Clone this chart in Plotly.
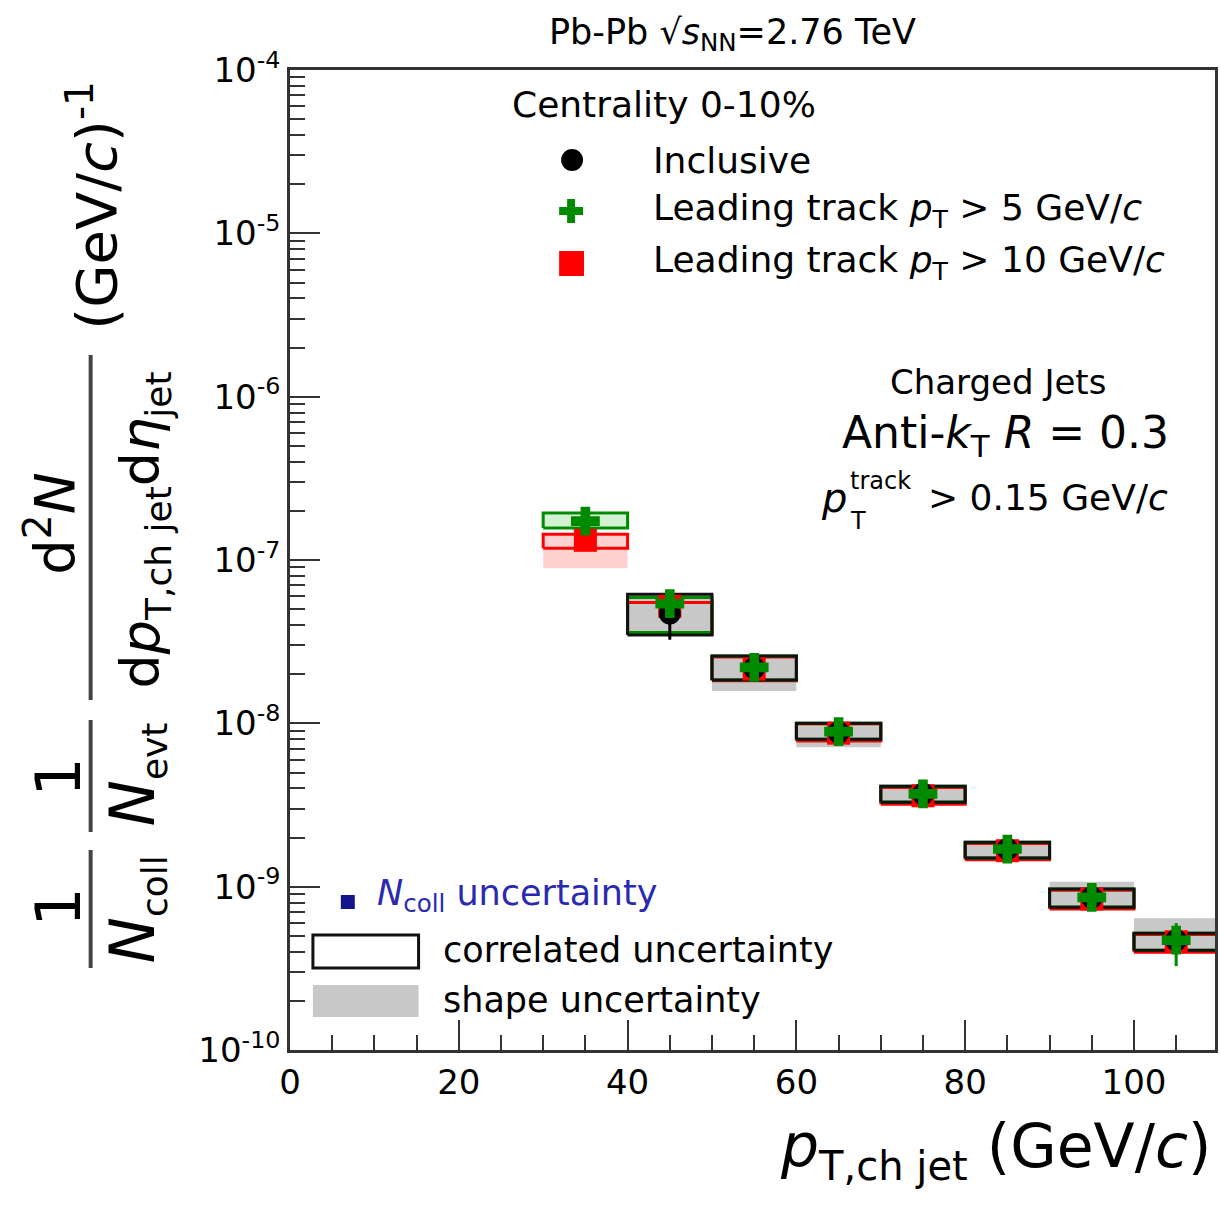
import plotly.graph_objects as go

# ---------------- data ----------------
BIN_W = 10.0
x_incl = [45, 55, 65, 75, 85, 95, 105]
x_lt = [35, 45, 55, 65, 75, 85, 95, 105]

incl_y = [4.7e-8, 2.18e-8, 8.8e-9, 3.7e-9, 1.70e-9, 8.6e-10, 4.7e-10]
incl_err_up = [1.2e-8, 1.0e-9, 4e-10, 1.5e-10, 8e-11, 4e-11, 3e-11]
incl_err_dn = [1.45e-8, 1.0e-9, 4e-10, 1.5e-10, 8e-11, 4e-11, 3e-11]
incl_corr_lo = [3.47e-8, 1.84e-8, 8.0e-9, 3.29e-9, 1.50e-9, 7.49e-10, 4.08e-10]
incl_corr_hi = [6.18e-8, 2.58e-8, 1.0e-8, 4.12e-9, 1.87e-9, 9.66e-10, 5.19e-10]
incl_shape_lo = [3.5e-8, 1.58e-8, 7.15e-9, 3.3e-9, 1.5e-9, 7.6e-10, 4.2e-10]
incl_shape_hi = [6.1e-8, 2.5e-8, 9.6e-9, 4.0e-9, 1.85e-9, 1.07e-9, 6.4e-10]

lt5_y = [1.73e-7, 5.4e-8, 2.2e-8, 8.9e-9, 3.7e-9, 1.70e-9, 8.6e-10, 4.7e-10]
lt5_err_up = [6e-9, 4e-9, 1e-9, 4e-10, 1.5e-10, 8e-11, 6e-11, 1.28e-10]
lt5_err_dn = [6e-9, 4e-9, 1e-9, 4e-10, 1.5e-10, 8e-11, 6e-11, 1.44e-10]
lt5_corr_lo = [1.57e-7, 3.6e-8, 1.84e-8, 8.0e-9, 3.3e-9, 1.5e-9, 7.5e-10, 4.08e-10]
lt5_corr_hi = [1.94e-7, 5.9e-8, 2.58e-8, 1.0e-8, 4.12e-9, 1.87e-9, 9.66e-10, 5.19e-10]
lt5_shape_lo = [1.6e-7, 3.7e-8, 1.9e-8, 8.1e-9, 3.35e-9, 1.52e-9, 7.6e-10, 4.2e-10]
lt5_shape_hi = [1.9e-7, 5.8e-8, 2.5e-8, 9.8e-9, 4.0e-9, 1.84e-9, 9.5e-10, 5.1e-10]

lt10_y = [1.32e-7, 5.2e-8, 2.15e-8, 8.7e-9, 3.6e-9, 1.66e-9, 8.4e-10, 4.6e-10]
lt10_err_up = [5e-9, 3e-9, 8e-10, 3e-10, 1.2e-10, 6e-11, 5e-11, 5e-11]
lt10_err_dn = [5e-9, 3e-9, 8e-10, 3e-10, 1.2e-10, 6e-11, 5e-11, 5e-11]
lt10_corr_lo = [1.18e-7, 3.5e-8, 1.82e-8, 7.8e-9, 3.2e-9, 1.46e-9, 7.3e-10, 3.97e-10]
lt10_corr_hi = [1.44e-7, 5.5e-8, 2.55e-8, 9.9e-9, 4.05e-9, 1.84e-9, 9.5e-10, 5.1e-10]
lt10_shape_lo = [8.9e-8, 3.6e-8, 1.85e-8, 7.9e-9, 3.25e-9, 1.48e-9, 7.4e-10, 4.0e-10]
lt10_shape_hi = [1.42e-7, 5.4e-8, 2.5e-8, 9.7e-9, 4.0e-9, 1.82e-9, 9.3e-10, 5.0e-10]

y_tickvals = [1e-10, 1e-9, 1e-8, 1e-7, 1e-6, 1e-5, 1e-4]
y_ticktext = ["10<sup>-10</sup>", "10<sup>-9</sup>", "10<sup>-8</sup>", "10<sup>-7</sup>",
              "10<sup>-6</sup>", "10<sup>-5</sup>", "10<sup>-4</sup>"]

# ---------------- style ----------------
FONT = "DejaVu Sans"
GREEN = "#008a00"
RED = "#ff0000"
GRAY = "#c8c8c8"
AX = "#333333"

W, H = 1220, 1210
L, R, T, B = 290, 2, 70, 160
PW = W - L - R
PH = H - T - B


def px(x):
    return (x - L) / PW


def py(y):
    return (H - B - y) / PH


def rects(xc, lo, hi):
    xs, ys = [], []
    hw = BIN_W / 2
    for c, l, h in zip(xc, lo, hi):
        xs += [c - hw, c + hw, c + hw, c - hw, c - hw, None]
        ys += [l, l, h, h, l, None]
    return xs, ys


fig = go.Figure()


def shape_box(xc, lo, hi, color):
    xs, ys = rects(xc, lo, hi)
    fig.add_trace(go.Scatter(x=xs, y=ys, mode="lines", fill="toself", fillcolor=color,
                             line=dict(width=0, color=color), hoverinfo="skip", showlegend=False))


def corr_box(xc, lo, hi, color):
    xs, ys = rects(xc, lo, hi)
    fig.add_trace(go.Scatter(x=xs, y=ys, mode="lines", line=dict(width=3, color=color),
                             hoverinfo="skip", showlegend=False))


shape_box(x_lt, lt10_shape_lo, lt10_shape_hi, "#ffd2d2")
shape_box(x_lt, lt5_shape_lo, lt5_shape_hi, "#d2f2d2")
shape_box(x_incl, incl_shape_lo, incl_shape_hi, GRAY)
corr_box(x_lt, lt10_corr_lo, lt10_corr_hi, RED)
corr_box(x_lt, lt5_corr_lo, lt5_corr_hi, GREEN)
corr_box(x_incl, incl_corr_lo, incl_corr_hi, "#111111")


def pts(x, y, up, dn, color, symbol, size, name):
    fig.add_trace(go.Scatter(
        x=x, y=y, mode="markers", name=name, showlegend=False,
        marker=dict(symbol=symbol, size=size, color=color, line=dict(width=0)),
        error_y=dict(type="data", symmetric=False, array=up, arrayminus=dn,
                     color=color, thickness=3, width=0)))


pts(x_lt, lt10_y, lt10_err_up, lt10_err_dn, RED, "square", 23, "Leading track pT > 10 GeV/c")
pts(x_incl, incl_y, incl_err_up, incl_err_dn, "#000000", "circle", 22, "Inclusive")
pts(x_lt, lt5_y, lt5_err_up, lt5_err_dn, GREEN, "cross", 24, "Leading track pT > 5 GeV/c")

ann = []
shapes = []


def txt(x, y, s, size, xanchor="center", yanchor="middle", angle=0, color="#000000"):
    ann.append(dict(x=px(x), y=py(y), xref="paper", yref="paper", text=s, showarrow=False,
                    font=dict(size=size, color=color, family=FONT), xanchor=xanchor,
                    yanchor=yanchor, textangle=angle))


def bar(x, y0, y1):
    shapes.append(dict(type="line", xref="paper", yref="paper", x0=px(x), x1=px(x),
                       y0=py(y0), y1=py(y1), line=dict(color="#444444", width=4)))


# ---- y-axis title (rotated fraction) ----
txt(57, 907, "1", 62, angle=-90)
bar(90, 850, 968)
txt(134, 910, "<i>N</i><sub><span style='font-size:36px'>coll</span></sub>", 62, angle=-90)
txt(57, 777, "1", 62, angle=-90)
bar(90, 720, 832)
txt(134, 775, "<i>N</i><sub><span style='font-size:36px'>evt</span></sub>", 62, angle=-90)
txt(50, 524, "d<sup>2</sup><i>N</i>", 56, angle=-90)
bar(90, 355, 700)
txt(143, 530, "d<i>p</i><sub><span style='font-size:36px'>T,ch jet</span></sub>d<i>η</i>"
    "<sub><span style='font-size:36px'>jet</span></sub>", 54, angle=-90)
txt(92, 205, "(GeV/<i>c</i>)<sup>-1</sup>", 56, angle=-90)

# ---- x-axis title ----
txt(1216, 1150, "<i>p</i><sub><span style='font-size:40px'>T,ch jet</span></sub> (GeV/<i>c</i>)",
    60, xanchor="right")

# ---- top title ----
txt(734, 35, "Pb-Pb √<i>s</i><sub>NN</sub>=2.76 TeV", 35)

# ---- legend (top) ----
txt(665, 105, "Centrality 0-10%", 36)
shapes.append(dict(type="circle", xref="paper", yref="paper", x0=px(562), x1=px(584),
                   y0=py(171), y1=py(149), fillcolor="#000000", line=dict(width=0)))
shapes.append(dict(type="rect", xref="paper", yref="paper", x0=px(560), x1=px(584),
                   y0=py(215), y1=py(207), fillcolor=GREEN, line=dict(width=0)))
shapes.append(dict(type="rect", xref="paper", yref="paper", x0=px(568), x1=px(576),
                   y0=py(223), y1=py(199), fillcolor=GREEN, line=dict(width=0)))
shapes.append(dict(type="rect", xref="paper", yref="paper", x0=px(560), x1=px(585),
                   y0=py(276), y1=py(251), fillcolor=RED, line=dict(width=0)))
txt(652, 160, "Inclusive", 36, xanchor="left")
txt(652, 210, "Leading track <i>p</i><sub>T</sub> > 5 GeV/<i>c</i>", 36, xanchor="left")
txt(652, 262, "Leading track <i>p</i><sub>T</sub> > 10 GeV/<i>c</i>", 36, xanchor="left")

# ---- jet info ----
txt(1000, 382, "Charged Jets", 34)
txt(1008, 435, "Anti-<i>k</i><sub>T</sub> <i>R</i> = 0.3", 44)
txt(836, 498, "<i>p</i>", 40)
txt(882, 481, "track", 24)
txt(860, 521, "T", 24)
txt(928, 497, "> 0.15 GeV/<i>c</i>", 36, xanchor="left")

# ---- legend (bottom) ----
shapes.append(dict(type="rect", xref="paper", yref="paper", x0=px(341), x1=px(355),
                   y0=py(909), y1=py(895), fillcolor="#14148c", line=dict(width=0)))
txt(375, 895, "<i>N</i><sub>coll</sub> uncertainty", 35, xanchor="left", color="#2a2ab0")
shapes.append(dict(type="rect", xref="paper", yref="paper", x0=px(313), x1=px(419),
                   y0=py(968), y1=py(935), fillcolor="rgba(0,0,0,0)",
                   line=dict(width=3, color="#111111")))
txt(441, 950, "correlated uncertainty", 35, xanchor="left")
shapes.append(dict(type="rect", xref="paper", yref="paper", x0=px(313), x1=px(419),
                   y0=py(1017), y1=py(985), fillcolor=GRAY, line=dict(width=0)))
txt(441, 1000, "shape uncertainty", 35, xanchor="left")

fig.update_layout(
    width=W, height=H,
    margin=dict(l=L, r=R, t=T, b=B, pad=0),
    paper_bgcolor="white", plot_bgcolor="white",
    font=dict(family=FONT, size=34, color="#000000"),
    showlegend=False,
    annotations=ann, shapes=shapes,
    xaxis=dict(range=[0, 109.6], showgrid=False, zeroline=False, showline=True,
               linecolor=AX, linewidth=2.5, mirror=True, ticks="inside", ticklen=30,
               tickwidth=2, tickcolor=AX, tick0=0, dtick=20, tickfont=dict(size=34),
               minor=dict(ticks="inside", ticklen=15, tickwidth=2, tickcolor=AX, dtick=5)),
    yaxis=dict(type="log", range=[-10, -4], showgrid=False, zeroline=False, showline=True,
               linecolor=AX, linewidth=2.5, mirror=True, ticks="inside", ticklen=30,
               tickwidth=2, tickcolor=AX, tickvals=y_tickvals, ticktext=y_ticktext,
               tickfont=dict(size=34),
               minor=dict(ticks="inside", ticklen=15, tickwidth=2, tickcolor=AX, dtick="D1")),
)

fig.write_html("out.html")
